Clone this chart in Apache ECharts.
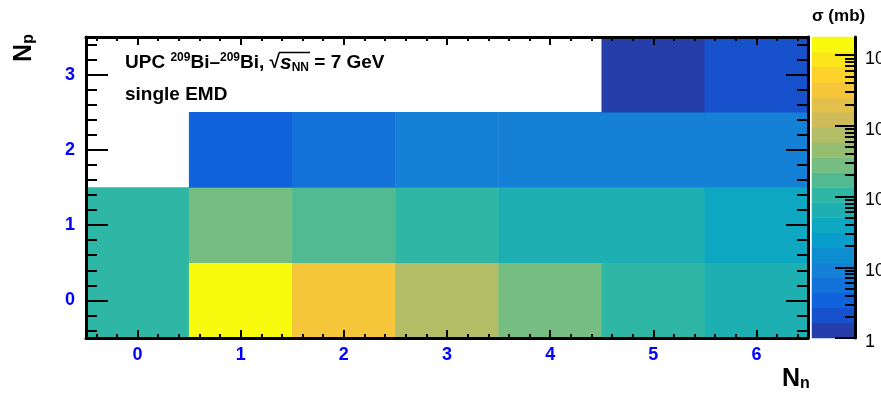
<!DOCTYPE html>
<html>
<head>
<meta charset="utf-8">
<script src="https://cdn.jsdelivr.net/npm/echarts@6/dist/echarts.min.js"></script>
<style>
  html, body { margin: 0; padding: 0; background: #ffffff; }
  #chart { width: 881px; height: 394px; }
</style>
</head>
<body>
<div id="chart"></div>
<script>
// Bins: number of emitted neutrons (x) and protons (y)
const nNeutronLabels = ['0', '1', '2', '3', '4', '5', '6'];
const nProtonLabels = ['0', '1', '2', '3'];

// Single-EMD cross sections (mb), one array per proton multiplicity; null = empty bin
const sigmaNp0 = [105, 18000, 3300, 750, 280, 105, 64];
const sigmaNp1 = [105, 280, 170, 105, 64, 64, 40];
const sigmaNp2 = [null, 3.4, 5.5, 9, 9, 9, 9];
const sigmaNp3 = [null, null, null, null, null, 1.3, 2.1];

// Logarithmic colour scale
const zMin = 1;
const zMax = 18000;
const nLevels = 20;
const zDecadeValues = [1, 10, 100, 1000, 10000];
const zDecadeLabels = ['1', '10', '10{e|2}', '10{e|3}', '10{e|4}'];

// "Bird" palette stops
const birdStops = [0, 0.125, 0.25, 0.375, 0.5, 0.625, 0.75, 0.875, 1];
const birdR = [0.2082, 0.0592, 0.0780, 0.0232, 0.1802, 0.5301, 0.8186, 0.9956, 0.9764];
const birdG = [0.1664, 0.3599, 0.5041, 0.6419, 0.7178, 0.7492, 0.7328, 0.7862, 0.9832];
const birdB = [0.5293, 0.8684, 0.8385, 0.7914, 0.6425, 0.4662, 0.3499, 0.1968, 0.0539];

function birdColor(f) {
  let i = 0;
  while (i < birdStops.length - 2 && f > birdStops[i + 1]) i++;
  const t = (f - birdStops[i]) / (birdStops[i + 1] - birdStops[i]);
  const c = (a) => Math.round(255 * (a[i] + t * (a[i + 1] - a[i])));
  return 'rgb(' + c(birdR) + ',' + c(birdG) + ',' + c(birdB) + ')';
}

const logMin = Math.log10(zMin);
const logMax = Math.log10(zMax);
const levelStep = (logMax - logMin) / nLevels;

// One colour per contour level
const pieces = [];
for (let i = 0; i < nLevels; i++) {
  const p = { gte: logMin + i * levelStep, color: birdColor((i + 0.99) / nLevels) };
  if (i === nLevels - 1) p.lte = logMax + 1e-9; else p.lt = logMin + (i + 1) * levelStep;
  pieces.push(p);
}

// Heatmap cells: [neutron bin, proton bin, log10(sigma), sigma]
const sigmaRows = [sigmaNp0, sigmaNp1, sigmaNp2, sigmaNp3];
const cells = [];
sigmaRows.forEach((row, py) => {
  row.forEach((v, nx) => {
    if (v !== null) cells.push([nx, py, Math.log10(v), v]);
  });
});

// Colour bar bands, one per level
const levelIds = [];
const bands = [];
for (let i = 0; i < nLevels; i++) {
  levelIds.push(String(i));
  bands.push([0, i, logMin + (i + 0.5) * levelStep]);
}

// Minor tick positions
const xMinor = [];
for (let k = -2; k <= 32; k++) xMinor.push(Math.round(k * 2) / 10);
const yMinor = [];
for (let k = -2; k <= 17; k++) yMinor.push(Math.round(k * 2) / 10);
const zMinor = [];
for (let n = 0; n <= 4; n++) {
  for (let m = 2; m <= 9; m++) {
    const v = m * Math.pow(10, n);
    if (v <= zMax) zMinor.push(Math.log10(v));
  }
}
const zMajor = zDecadeValues.map((v) => Math.log10(v));

const FONT = 'Liberation Sans';
const BLUE = '#0000ff';
const tickStyle = { color: '#000', width: 2 };
const frameLine = { show: true, onZero: false, lineStyle: { color: '#000', width: 3 } };
const noSplit = { show: false };

function catAxis(type, grid, data, position, tickLen, showLabels) {
  return {
    type: 'category', gridIndex: grid, data: data, position: position, boundaryGap: true, z: 10,
    axisLine: frameLine,
    axisTick: { show: true, inside: true, alignWithLabel: true, interval: 0, length: tickLen, lineStyle: tickStyle },
    axisLabel: showLabels
      ? { show: true, interval: 0, color: BLUE, fontFamily: FONT, fontWeight: 'bold', fontSize: 18, margin: type === 'x' ? 8 : 11 }
      : { show: false },
    splitLine: noSplit
  };
}
function minorAxis(grid, min, max, position, values, tickLen) {
  return {
    type: 'value', gridIndex: grid, min: min, max: max, position: position, z: 11,
    axisLine: { show: false, onZero: false },
    axisTick: { show: true, inside: true, customValues: values, length: tickLen, lineStyle: tickStyle },
    axisLabel: { show: false },
    splitLine: noSplit
  };
}

// Text metrics for placing the bar over the square root
const measureCtx = document.createElement('canvas').getContext('2d');
function textWidth(str, font) { measureCtx.font = font; return measureCtx.measureText(str).width; }
const TITLE_X = 125, TITLE_Y = 63;
const fBase = 'bold 19px "' + FONT + '"';
const fSup = 'bold 12px "' + FONT + '"';
const fIt = 'italic bold 21px "' + FONT + '"';
const rootStart = TITLE_X + textWidth('UPC ', fBase) + textWidth('209', fSup) + textWidth('Bi–', fBase)
  + textWidth('209', fSup) + textWidth('Bi, √', fBase) - 1;
const rootEnd = rootStart + 1 + textWidth('s', fIt) + textWidth('NN', fSup) + 1;

const chart = echarts.init(document.getElementById('chart'), null, { renderer: 'canvas' });

const option = {
  animation: false,
  backgroundColor: '#ffffff',
  grid: [
    { left: 86, top: 37, width: 722, height: 301, outerBoundsMode: 'none' },
    { left: 812, top: 37, width: 43, height: 301, outerBoundsMode: 'none' }
  ],
  visualMap: {
    type: 'piecewise', show: false, dimension: 2, seriesIndex: [0, 1], pieces: pieces
  },
  xAxis: [
    catAxis('x', 0, nNeutronLabels, 'bottom', 8, true),
    minorAxis(0, -0.5, 6.5, 'bottom', xMinor, 4),
    catAxis('x', 0, nNeutronLabels, 'top', 8, false),
    minorAxis(0, -0.5, 6.5, 'top', xMinor, 4),
    {
      type: 'category', gridIndex: 1, data: [''], boundaryGap: true,
      axisLine: { show: false, onZero: false }, axisTick: { show: false }, axisLabel: { show: false }, splitLine: noSplit
    }
  ],
  yAxis: [
    catAxis('y', 0, nProtonLabels, 'left', 22, true),
    minorAxis(0, -0.5, 3.5, 'left', yMinor, 11),
    catAxis('y', 0, nProtonLabels, 'right', 22, false),
    minorAxis(0, -0.5, 3.5, 'right', yMinor, 11),
    {
      type: 'category', gridIndex: 1, data: levelIds, boundaryGap: true,
      axisLine: { show: false, onZero: false }, axisTick: { show: false }, axisLabel: { show: false }, splitLine: noSplit
    },
    {
      type: 'value', gridIndex: 1, min: logMin, max: logMax, position: 'right', z: 10,
      axisLine: frameLine,
      axisTick: { show: true, inside: true, customValues: zMajor, length: 20, lineStyle: tickStyle },
      axisLabel: {
        show: true, customValues: zMajor, margin: 10, padding: [8, 0, 0, 0],
        color: '#000', fontFamily: FONT, fontSize: 18,
        formatter: (v) => zDecadeLabels[Math.round(v)],
        rich: { e: { fontFamily: FONT, fontSize: 12, padding: [0, 0, 10, 0] } }
      },
      splitLine: noSplit
    },
    minorAxis(1, logMin, logMax, 'right', zMinor, 10)
  ],
  series: [
    {
      type: 'heatmap', xAxisIndex: 0, yAxisIndex: 0, data: cells,
      itemStyle: { borderWidth: 0 }, emphasis: { disabled: true }, progressive: 0
    },
    {
      type: 'heatmap', xAxisIndex: 4, yAxisIndex: 4, data: bands,
      itemStyle: { borderWidth: 0 }, emphasis: { disabled: true }, progressive: 0
    }
  ],
  graphic: [
    {
      type: 'text', x: TITLE_X, y: TITLE_Y, z: 20,
      style: {
        text: 'UPC {sup|209}Bi–{sup|209}Bi, √{it|s}{sub|NN} = 7 GeV',
        verticalAlign: 'middle',
        fontFamily: FONT, fontWeight: 'bold', fontSize: 19, lineHeight: 24, fill: '#000',
        rich: {
          sup: { fontFamily: FONT, fontWeight: 'bold', fontSize: 12, lineHeight: 12, padding: [0, 0, 10, 0] },
          it: { fontFamily: FONT, fontWeight: 'bold', fontStyle: 'italic', fontSize: 21, lineHeight: 24 },
          sub: { fontFamily: FONT, fontWeight: 'bold', fontSize: 12, lineHeight: 12, padding: [10, 0, 0, 0] }
        }
      }
    },
    {
      type: 'line', z: 20,
      shape: { x1: rootStart, y1: 52.5, x2: rootEnd, y2: 52.5 },
      style: { stroke: '#000', lineWidth: 1.5 }
    },
    {
      type: 'text', x: TITLE_X, y: 95, z: 20,
      style: { text: 'single EMD', verticalAlign: 'middle', fontFamily: FONT, fontWeight: 'bold', fontSize: 19, fill: '#000' }
    },
    {
      type: 'text', left: 812, top: 8, z: 20,
      style: { text: 'σ (mb)', fontFamily: FONT, fontWeight: 'bold', fontSize: 17, fill: '#000' }
    },
    {
      type: 'text', left: 782, top: 366, z: 20,
      style: {
        text: '{b|N}{s|n}', fill: '#000',
        rich: {
          b: { fontFamily: FONT, fontWeight: 'bold', fontSize: 25, lineHeight: 26 },
          s: { fontFamily: FONT, fontWeight: 'bold', fontSize: 16, lineHeight: 16, padding: [10, 0, 0, 0] }
        }
      }
    },
    {
      type: 'text', x: 24, y: 48, rotation: Math.PI / 2, z: 20,
      style: {
        text: '{b|N}{s|p}', fill: '#000', align: 'center', verticalAlign: 'middle',
        rich: {
          b: { fontFamily: FONT, fontWeight: 'bold', fontSize: 25, lineHeight: 26 },
          s: { fontFamily: FONT, fontWeight: 'bold', fontSize: 16, lineHeight: 16, padding: [10, 0, 0, 0] }
        }
      }
    }
  ]
};

chart.setOption(option);
</script>
</body>
</html>
